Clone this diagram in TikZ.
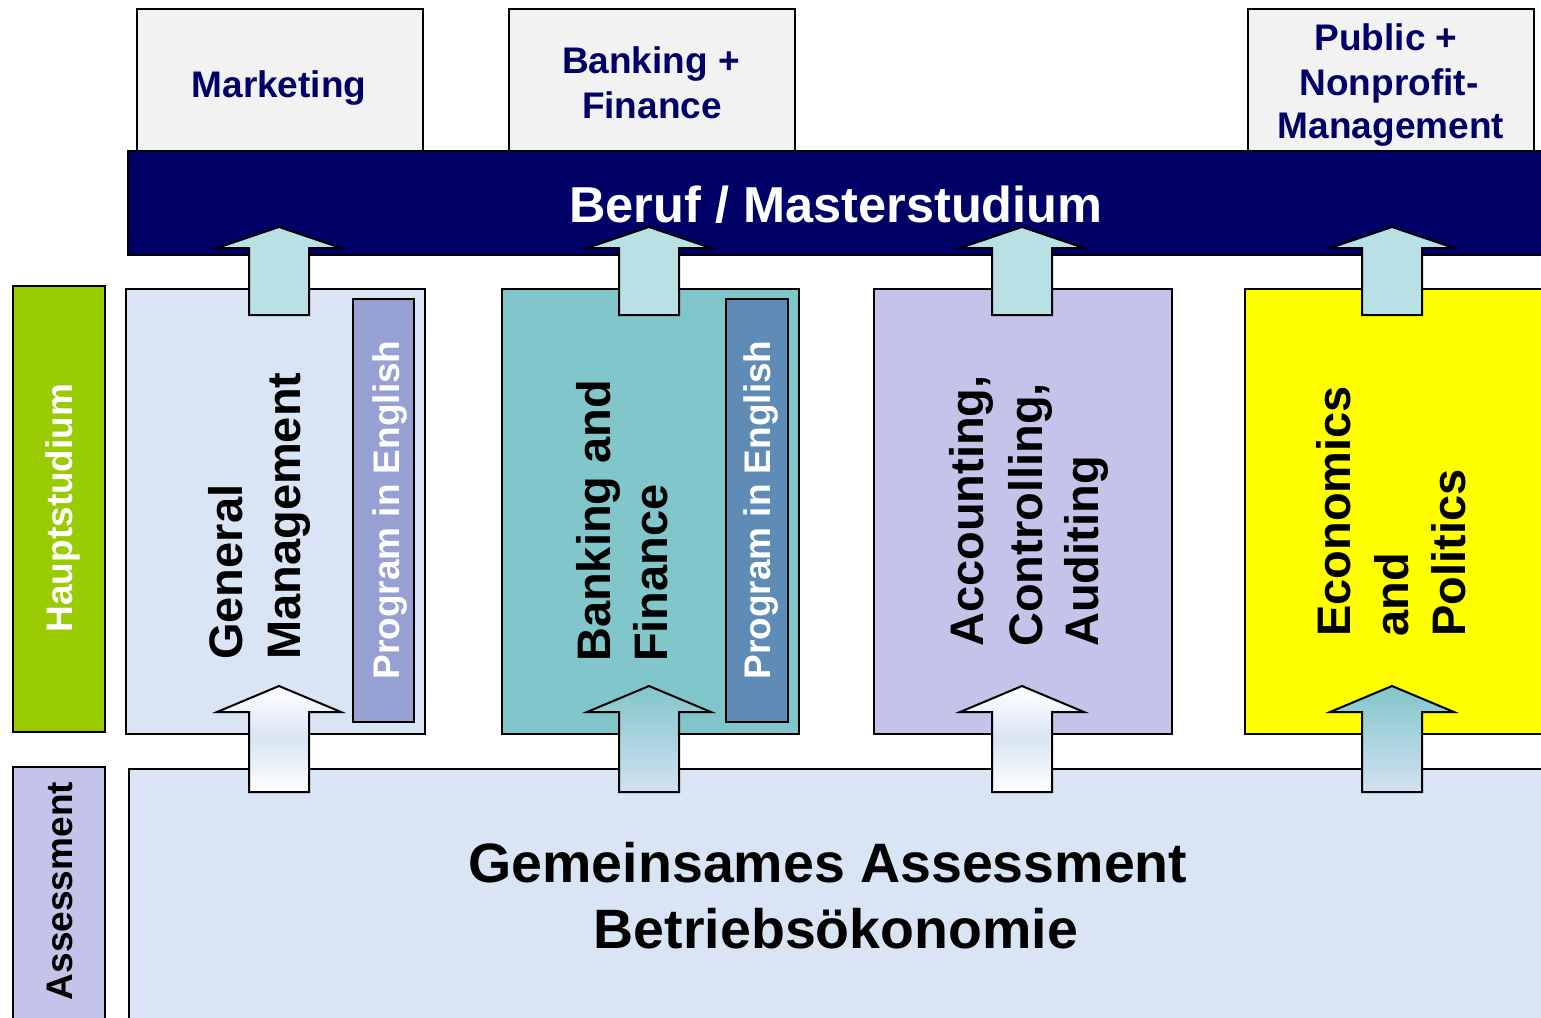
\documentclass[tikz,border=0pt]{standalone}
\usepackage{fontspec}
\setmainfont{Liberation Sans}
\definecolor{topfill}{HTML}{F2F2F2}
\definecolor{barnavy}{HTML}{000066}
\definecolor{hgreen}{HTML}{99CC00}
\definecolor{lav}{HTML}{C4C3EA}
\definecolor{lblue}{HTML}{D9E4F4}
\definecolor{progA}{HTML}{97A0D2}
\definecolor{progB}{HTML}{5F8BB7}
\definecolor{bfteal}{HTML}{81C6CA}
\definecolor{arrowup}{HTML}{B9E0E4}
\definecolor{arrowbot}{HTML}{D3E1F1}
\definecolor{yel}{HTML}{FFFF00}
\begin{document}
\begin{tikzpicture}[x=1pt,y=-1pt,
  box/.style={draw=black, line width=2pt, inner sep=0pt, anchor=north west},
  toplbl/.style={text=barnavy, font=\bfseries\fontsize{37}{44}\selectfont, inner sep=0pt, anchor=base},
  vlbl/.style={text=black, font=\bfseries\fontsize{47}{58}\selectfont, inner sep=0pt, rotate=90, anchor=base west},
  sidelbl/.style={font=\bfseries\fontsize{37}{44}\selectfont, inner sep=0pt, rotate=90, anchor=base},
  proglbl/.style={text=white, font=\bfseries\fontsize{37}{44}\selectfont, inner sep=0pt, rotate=90, anchor=base},
  uparrowstyle/.style={draw=black, line width=2pt, fill=arrowup, line join=miter},
  lowA/.style={draw=black, line width=2pt, top color=white, bottom color=white, middle color=lblue},
  lowB/.style={draw=black, line width=2pt, top color=bfteal, bottom color=arrowbot}]
\useasboundingbox (0,0) rectangle (1541,1017);
\fill[white] (0,0) rectangle (1541,1017);

% top boxes
\node[box, fill=topfill, minimum width=286pt, minimum height=142pt] (top1) at (136,8) {};
\node[box, fill=topfill, minimum width=286pt, minimum height=142pt] (top2) at (508,8) {};
\node[box, fill=topfill, minimum width=286pt, minimum height=142pt] (top3) at (1247,8) {};
\node[toplbl] (mk) at (279,97) {Marketing};
\node[toplbl] (bf1) at (651,73) {Banking +};
\node[toplbl] (bf2) at (652,118) {Finance};
\node[toplbl] (pn1) at (1386,50) {Public +};
\node[toplbl] (pn2) at (1389,95) {Nonprofit-};
\node[toplbl] (pn3) at (1391,138) {Management};

% bar
\node[box, fill=barnavy, minimum width=1430pt, minimum height=104pt] (bar) at (127,150) {};
\node[text=white, font=\bfseries\fontsize{50.5}{60}\selectfont, inner sep=0pt, anchor=base] (bartxt) at (836,222) {Beruf / Masterstudium};

% side labels
\node[box, fill=hgreen, minimum width=92pt, minimum height=446pt] (haupt) at (12,285) {};
\node[sidelbl, text=white] (hauptt) at (72,508) {Hauptstudium};
\node[box, fill=lav, minimum width=92pt, minimum height=270pt] (assess) at (12,766) {};
\node[sidelbl, text=black] (assesst) at (72,891) {Assessment};

% bottom box
\node[box, fill=lblue, minimum width=1430pt, minimum height=270pt] (common) at (128,768) {};
\node[font=\bfseries\fontsize{55.5}{66}\selectfont, inner sep=0pt, anchor=base] (c1) at (828,882) {Gemeinsames Assessment};
\node[font=\bfseries\fontsize{55.5}{66}\selectfont, inner sep=0pt, anchor=base] (c2) at (836,948) {Betriebsökonomie};

% main boxes
\node[box, fill=lblue, minimum width=299pt, minimum height=445pt] (gm) at (125,288) {};
\node[box, fill=progA, minimum width=61pt, minimum height=423pt] (gmprog) at (352,298) {};
\node[box, fill=bfteal, minimum width=297pt, minimum height=445pt] (bf) at (501,288) {};
\node[box, fill=progB, minimum width=62pt, minimum height=423pt] (bfprog) at (725,298) {};
\node[box, fill=lav, minimum width=298pt, minimum height=445pt] (acc) at (873,288) {};
\node[box, fill=yel, minimum width=310pt, minimum height=445pt] (eco) at (1244,288) {};

\node[proglbl] (gmp) at (399,510) {Program in English};
\node[proglbl] (bfp) at (770,510) {Program in English};

\node[vlbl] (gm1) at (242,660) {General};
\node[vlbl] (gm2) at (300,660) {Management};
\node[vlbl] (bft1) at (610,662) {Banking and};
\node[vlbl] (bft2) at (667,662) {Finance};
\node[vlbl] (ac1) at (983,647) {Accounting,};
\node[vlbl] (ac2) at (1042,647) {Controlling,};
\node[vlbl] (ac3) at (1098,647) {Auditing};
\node[vlbl] (ec1) at (1350,637) {Economics};
\node[vlbl] (ec2) at (1408,637) {and};
\node[vlbl] (ec3) at (1465,637) {Politics};

% upper arrows
\foreach \cx in {279,649,1022,1392}{
  \draw[uparrowstyle] (\cx,227) -- (\cx+62,248) -- (\cx+30,248) -- (\cx+30,315)
    -- (\cx-30,315) -- (\cx-30,248) -- (\cx-62,248) -- cycle;
}
% lower arrows
\foreach \cx/\st in {279/lowA,649/lowB,1022/lowA,1392/lowB}{
  \draw[\st] (\cx,686) -- (\cx+62,712) -- (\cx+30,712) -- (\cx+30,792)
    -- (\cx-30,792) -- (\cx-30,712) -- (\cx-62,712) -- cycle;
}
\end{tikzpicture}
\end{document}
